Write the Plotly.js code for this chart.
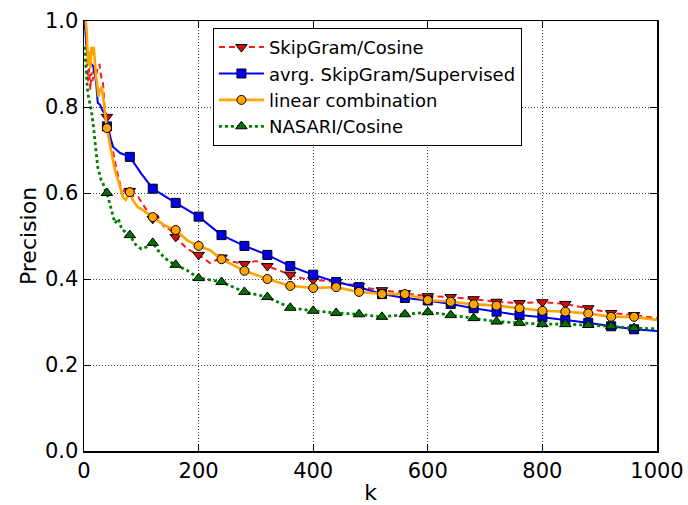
<!DOCTYPE html>
<html>
<head>
<meta charset="utf-8">
<script src="https://cdn.plot.ly/plotly-3.0.1.min.js"></script>
<style>html,body{margin:0;padding:0;background:#fff}#chart{width:688px;height:505px}</style>
</head>
<body>
<div id="chart"></div>
<script>
// ---- data ----
var seriesNames = ["SkipGram/Cosine", "avrg. SkipGram/Supervised", "linear combination", "NASARI/Cosine"];

var kSkip = [1,3,5,7,9,11,13,15,18,21,24,27,30,33,36,38,40,47,56,64,73,80,88,95,106,120,128,140,150,160,180,190,200,220,240,260,280,300,320,340,360,380,400,420,440,460,480,500,520,540,560,580,600,640,680,720,760,800,840,880,920,960,1000];
var pSkip = [1.0,1.0,0.93,0.86,0.89,0.84,0.88,0.86,0.90,0.875,0.89,0.90,0.87,0.86,0.80,0.785,0.777,0.723,0.66,0.614,0.60,0.605,0.59,0.59,0.567,0.54,0.548,0.52,0.515,0.498,0.47,0.463,0.456,0.437,0.450,0.44,0.435,0.442,0.43,0.42,0.41,0.402,0.398,0.396,0.393,0.388,0.384,0.378,0.374,0.371,0.367,0.363,0.36,0.358,0.353,0.347,0.344,0.346,0.342,0.332,0.321,0.316,0.309];

var kAvrg = [1,3,5,7,10,13,16,19,21,24,28,33,37,40,51,63,80,100,120,160,200,240,280,320,360,400,440,480,520,560,600,640,680,720,760,800,840,880,920,960,1000];
var pAvrg = [1.0,0.96,0.93,0.92,0.91,0.90,0.895,0.87,0.86,0.81,0.805,0.79,0.785,0.755,0.707,0.693,0.684,0.645,0.61,0.577,0.545,0.502,0.477,0.456,0.43,0.41,0.393,0.381,0.365,0.356,0.35,0.342,0.332,0.324,0.316,0.311,0.305,0.298,0.29,0.283,0.279];

var kLin = [1,3,5,7,9,11,13,15,17,19,21,23,25,28,31,34,37,40,47,54,63,68,73,80,85,94,103,110,120,140,160,180,200,220,240,280,320,360,400,440,480,520,560,600,640,680,720,760,800,840,880,920,960,1000];
var pLin = [1.0,1.0,0.97,0.90,0.93,0.89,0.94,0.92,0.94,0.90,0.87,0.855,0.824,0.84,0.847,0.816,0.78,0.751,0.70,0.653,0.614,0.59,0.584,0.602,0.584,0.567,0.56,0.553,0.544,0.525,0.514,0.49,0.477,0.467,0.446,0.419,0.40,0.384,0.379,0.381,0.37,0.365,0.365,0.351,0.347,0.341,0.338,0.332,0.326,0.324,0.32,0.312,0.312,0.305];

var kNas = [1,3,5,7,10,13,16,19,22,24,27,30,33,36,40,47,54,60,66,72,80,90,100,110,120,130,140,150,160,180,200,240,280,320,360,400,440,480,520,560,600,640,680,720,760,800,840,880,920,960,1000];
var pNas = [0.94,0.89,0.86,0.83,0.81,0.79,0.76,0.716,0.68,0.66,0.645,0.63,0.623,0.61,0.60,0.567,0.53,0.54,0.515,0.51,0.502,0.48,0.47,0.475,0.484,0.465,0.45,0.44,0.433,0.42,0.402,0.393,0.37,0.358,0.333,0.326,0.321,0.318,0.312,0.318,0.323,0.316,0.309,0.301,0.298,0.295,0.295,0.293,0.29,0.286,0.284];

var xTicks = [0,200,400,600,800,1000];
var yTicks = [0.0,0.2,0.4,0.6,0.8,1.0];

// ---- styles ----
var styles = [
  {line:{color:'#ff1a1a', width:2, dash:'6px,4px'}, marker:{symbol:'triangle-down', size:10, color:'#d01010', line:{color:'#000', width:1}}},
  {line:{color:'#0000ff', width:2, dash:'solid'}, marker:{symbol:'square', size:9, color:'#0000ee', line:{color:'#000', width:1}}},
  {line:{color:'#ffa500', width:2.6, dash:'solid'}, marker:{symbol:'circle', size:9, color:'#ffa500', line:{color:'#000', width:1}}},
  {line:{color:'#008000', width:2.8, dash:'3px,3px'}, marker:{symbol:'triangle-up', size:10, color:'#007000', line:{color:'#000', width:1}}}
];
var dataSets = [[kSkip,pSkip],[kAvrg,pAvrg],[kLin,pLin],[kNas,pNas]];

var traces = [];
dataSets.forEach(function(ds, i){
  var k = ds[0], p = ds[1];
  traces.push({x:k, y:p, type:'scatter', mode:'lines', line:styles[i].line, showlegend:false, hoverinfo:'skip'});
  var mk = [], mp = [];
  for (var j=0;j<k.length;j++){ if (k[j]%40===0 && k[j]>=40 && k[j]<=960){ mk.push(k[j]); mp.push(p[j]); } }
  traces.push({x:mk, y:mp, type:'scatter', mode:'markers', marker:styles[i].marker, showlegend:false});
});
// legend entries
dataSets.forEach(function(ds, i){
  traces.push({x:[null], y:[null], type:'scatter', mode:'lines+markers', name:seriesNames[i], line:styles[i].line, marker:styles[i].marker, showlegend:true});
});

var axisCommon = {
  showline:true, linecolor:'#000', linewidth:1.5, mirror:'ticks',
  ticks:'inside', ticklen:7, tickwidth:1, tickcolor:'#000',
  showgrid:true, gridcolor:'#444', gridwidth:1, griddash:'1px,2px',
  zeroline:false, tickfont:{family:'DejaVu Sans', size:21, color:'#000'}
};

var layout = {
  width:688, height:505,
  margin:{l:84, r:31, t:21, b:54},
  paper_bgcolor:'#fff', plot_bgcolor:'#fff',
  font:{family:'DejaVu Sans', color:'#000'},
  xaxis:Object.assign({}, axisCommon, {range:[0,1000], tickvals:xTicks, ticktext:xTicks.map(String),
    title:{text:'k', font:{family:'DejaVu Sans', size:22, color:'#000'}, standoff:4}}),
  yaxis:Object.assign({}, axisCommon, {range:[0,1], tickvals:yTicks, ticktext:yTicks.map(function(v){return v.toFixed(1);}),
    title:{text:'Precision', font:{family:'DejaVu Sans', size:22, color:'#000'}, standoff:2}}),
  legend:{x:0.225, y:0.984, xanchor:'left', yanchor:'top', bgcolor:'#fff', bordercolor:'#000', borderwidth:1,
    itemwidth:45, font:{family:'DejaVu Sans', size:18, color:'#000'}, traceorder:'normal'},
  showlegend:true
};

Plotly.newPlot('chart', traces, layout, {displayModeBar:false, staticPlot:true});
</script>
</body>
</html>
